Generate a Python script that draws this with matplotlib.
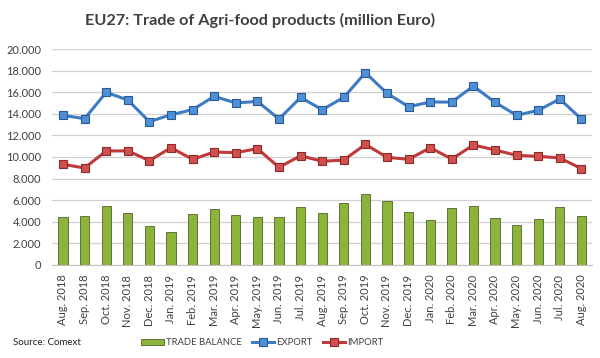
import matplotlib.pyplot as plt
import numpy as np

plt.rcParams['font.family'] = ['Lato', 'DejaVu Sans']

months = ["Aug. 2018", "Sep. 2018", "Oct. 2018", "Nov. 2018", "Dec. 2018",
          "Jan. 2019", "Feb. 2019", "Mar. 2019", "Apr. 2019", "May. 2019",
          "Jun. 2019", "Jul. 2019", "Aug. 2019", "Sep. 2019", "Oct. 2019",
          "Nov. 2019", "Dec. 2019", "Jan. 2020", "Feb. 2020", "Mar. 2020",
          "Apr. 2020", "May. 2020", "Jun. 2020", "Jul. 2020", "Aug. 2020"]
export = [13860, 13550, 15990, 15280, 13270, 13920, 14380, 15620, 15000, 15150,
          13520, 15520, 14380, 15520, 17810, 15900, 14660, 15090, 15090, 16570,
          15060, 13860, 14320, 15370, 13520]
imports = [9320, 8980, 10560, 10560, 9660, 10860, 9780, 10460, 10400, 10770,
           9040, 10120, 9600, 9720, 11170, 9970, 9780, 10860, 9810, 11110,
           10650, 10150, 10060, 9910, 8920]
balance = [4470, 4540, 5460, 4780, 3640, 3090, 4690, 5150, 4600, 4410,
           4440, 5340, 4780, 5770, 6570, 5930, 4880, 4200, 5250, 5430,
           4380, 3670, 4230, 5340, 4540]

x = np.arange(len(months))

fig = plt.figure(figsize=(6, 3.58), dpi=100)
ax = fig.add_axes([0.087, 0.26, 0.90, 0.603])

b = ax.bar(x, balance, width=0.42, color="#8DB43A", edgecolor="#4F6228",
           linewidth=0.6, label="TRADE BALANCE", zorder=2)
le, = ax.plot(x, export, color="#3D7CC4", lw=2.2, marker="s", ms=5.5,
              mfc="#4F8FD6", mec="#2A5A94", mew=0.8, label="EXPORT", zorder=3)
li, = ax.plot(x, imports, color="#C0393B", lw=2.2, marker="s", ms=5.5,
              mfc="#D0504D", mec="#8B2A28", mew=0.8, label="IMPORT", zorder=3)

ax.set_xlim(-0.5, len(months) - 0.5)
ax.set_ylim(0, 20000)
ax.set_yticks(np.arange(0, 20001, 2000))
ax.set_yticklabels(["0"] + [f"{v // 1000}.000" for v in range(2000, 20001, 2000)])
ax.set_xticks(x)
ax.set_xticklabels(months, rotation=90)
ax.tick_params(axis="both", length=0, labelsize=8, colors="#404040")
ax.tick_params(axis="x", pad=7)
ax.tick_params(axis="y", pad=8)
ax.grid(axis="y", color="#D0D0D0", lw=0.9, zorder=0)
for s in ["top", "right", "left"]:
    ax.spines[s].set_visible(False)
ax.spines["bottom"].set_color("#BFBFBF")

fig.text(0.433, 0.943, "EU27: Trade of Agri-food products (million Euro)",
         ha="center", va="center", fontsize=11.7, fontweight="bold", color="#404040")
fig.text(0.022, 0.042, "Source: Comext", fontsize=7, color="#202020",
         va="center")

fig.legend(handles=[b, le, li], loc="center", bbox_to_anchor=(0.437, 0.042),
           ncol=3, frameon=False, fontsize=6.8, handlelength=2.4,
           columnspacing=1.1, handletextpad=0.15, labelcolor="#404040")

fig.savefig("out.png", dpi=100)
